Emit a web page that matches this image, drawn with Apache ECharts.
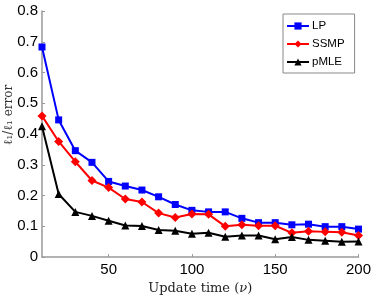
<!DOCTYPE html>
<html>
<head>
<meta charset="utf-8">
<script src="https://cdn.jsdelivr.net/npm/echarts@6/dist/echarts.min.js"></script>
<style>html,body{margin:0;padding:0;background:#fff;}#c{width:374px;height:300px;}</style>
</head>
<body>
<div id="c"></div>
<script>
var xValues = [10,20,30,40,50,60,70,80,90,100,110,120,130,140,150,160,170,180,190,200];
var lpValues = [0.683,0.446,0.346,0.308,0.246,0.231,0.218,0.196,0.171,0.152,0.147,0.147,0.126,0.112,0.112,0.105,0.107,0.099,0.099,0.091];
var ssmpValues = [0.459,0.376,0.310,0.249,0.226,0.189,0.179,0.143,0.129,0.140,0.139,0.100,0.105,0.102,0.102,0.079,0.084,0.082,0.081,0.070];
var pmleValues = [0.425,0.205,0.147,0.134,0.118,0.103,0.101,0.088,0.086,0.076,0.079,0.066,0.070,0.070,0.058,0.065,0.056,0.053,0.050,0.051];
var xTicks = [50,100,150,200];
var seriesNames = ['LP','SSMP','pMLE'];

function pairs(vals){ return xValues.map(function(x,i){ return [x, vals[i]]; }); }

var chart = echarts.init(document.getElementById('c'), null, {renderer:'canvas'});
chart.setOption({
  animation:false,
  grid:{left:42,right:15,top:11,bottom:35},
  legend:{
    orient:'vertical', left:283, top:14,
    padding:[6,10,5,3], itemGap:6, itemWidth:22, itemHeight:9,
    borderColor:'#888', borderWidth:1, backgroundColor:'#fff',
    textStyle:{fontFamily:'Liberation Sans', fontSize:11.5, color:'#000', padding:[0,0,0,-2]},
    data:seriesNames
  },
  xAxis:{
    type:'value', min:10, max:200,
    name:'Update time ({i|ν})', nameLocation:'middle', nameGap:22,
    nameTextStyle:{fontFamily:'DejaVu Serif', fontSize:13, color:'#222',
      rich:{i:{fontFamily:'DejaVu Serif', fontStyle:'italic', fontSize:13, color:'#222'}}},
    axisLine:{lineStyle:{color:'#999', width:1.5}},
    axisTick:{inside:true, length:3, customValues:xTicks, lineStyle:{color:'#999'}},
    axisLabel:{customValues:xTicks, fontFamily:'Liberation Sans', fontSize:15, color:'#000', margin:5},
    splitLine:{show:false}
  },
  yAxis:{
    type:'value', min:0, max:0.8, interval:0.1,
    axisLine:{show:true, lineStyle:{color:'#999', width:1.5}},
    axisTick:{show:true, inside:true, length:3, lineStyle:{color:'#999'}},
    axisLabel:{fontFamily:'Liberation Sans', fontSize:15, color:'#000', margin:4},
    splitLine:{show:false}
  },
  graphic:[{
    type:'text', x:9, y:115, rotation:Math.PI/2,
    style:{text:'ℓ₁/ℓ₁ error', fontFamily:'DejaVu Serif', fontSize:12, fill:'#333', align:'center', verticalAlign:'middle'}
  }],
  series:[
    {name:seriesNames[0], type:'line', data:pairs(lpValues), symbol:'rect', symbolSize:7,
     lineStyle:{color:'#0000ff', width:2}, itemStyle:{color:'#0000ff'}},
    {name:seriesNames[1], type:'line', data:pairs(ssmpValues), symbol:'diamond', symbolSize:9,
     lineStyle:{color:'#ff0000', width:2}, itemStyle:{color:'#ff0000'}},
    {name:seriesNames[2], type:'line', data:pairs(pmleValues), symbol:'triangle', symbolSize:8,
     lineStyle:{color:'#000000', width:2}, itemStyle:{color:'#000000'}}
  ]
});
</script>
</body>
</html>
